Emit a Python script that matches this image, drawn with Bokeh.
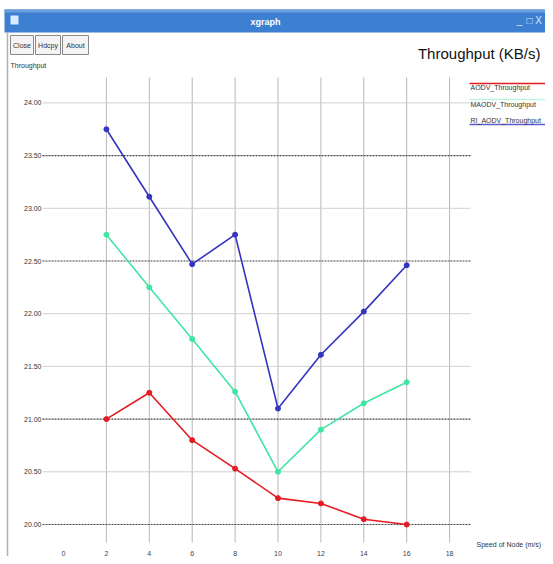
from bokeh.plotting import figure
from bokeh.embed import file_html
from bokeh.resources import INLINE
from bokeh.core.properties import value

# ---------------- data ----------------
speed = [2, 4, 6, 8, 10, 12, 14, 16]
aodv = [21.00, 21.25, 20.80, 20.53, 20.25, 20.20, 20.05, 20.00]
maodv = [22.75, 22.25, 21.76, 21.26, 20.50, 20.90, 21.15, 21.35]
ri_aodv = [23.75, 23.11, 22.47, 22.75, 21.10, 21.61, 22.02, 22.46]
series_names = ["AODV_Throughput", "MAODV_Throughput", "RI_AODV_Throughput"]
x_ticks = [0, 2, 4, 6, 8, 10, 12, 14, 16, 18]
y_ticks = [20.0, 20.5, 21.0, 21.5, 22.0, 22.5, 23.0, 23.5, 24.0]
dark_grid = [20.0, 21.0, 22.5, 23.5]
title_text = "Throughput (KB/s)"
x_label = "Speed of Node (m/s)"
y_label = "Throughput"

# ---------------- layout helpers (window pixel -> data) ----------------
W, H = 545, 556
OX, OY = 0, 3                   # window pixel shown at canvas origin
X0PX, XSCALE = 63.0, 21.45      # pixel of x=0, pixels per unit
Y0PX, YSCALE = 527.0, 105.4     # pixel of y=20, pixels per unit


def px2x(px):
    return (px - X0PX) / XSCALE


def py2v(py):
    return 20.0 + (Y0PX - py) / YSCALE


p = figure(width=W, height=H, output_backend="svg", toolbar_location=None,
           x_range=(px2x(OX), px2x(OX + W)), y_range=(py2v(OY + H), py2v(OY)),
           x_axis_type=None, y_axis_type=None, min_border=0,
           background_fill_color="white", border_fill_color="white")
p.outline_line_color = None
p.grid.visible = False

F = value("Liberation Sans")

# window chrome
p.quad(left=[px2x(4)], right=[px2x(560)], top=[py2v(12)], bottom=[py2v(35)],
       fill_color="#3d7fd0", line_color=None)
p.quad(left=[px2x(4)], right=[px2x(560)], top=[py2v(12)], bottom=[py2v(15)],
       fill_color="#6a9edc", line_color=None)
p.quad(left=[px2x(10)], right=[px2x(18)], top=[py2v(18)], bottom=[py2v(27)],
       fill_color="#d8ecff", line_color=None)
p.text(x=[px2x(265)], y=[py2v(24)], text=["xgraph"], text_color="white",
       text_font=F, text_font_size="9px", text_font_style="bold",
       text_align="center", text_baseline="middle")
p.text(x=[px2x(519), px2x(529), px2x(538)], y=[py2v(23)] * 3,
       text=["_", "□", "X"], text_color="#d8e8ff", text_font=F,
       text_font_size="10px", text_align="center", text_baseline="middle")
p.segment(x0=[px2x(7)], y0=[py2v(35)], x1=[px2x(7)], y1=[py2v(570)],
          line_color="#b0b0b0", line_width=1.5)

# buttons
btn_l = [px2x(10), px2x(35), px2x(62)]
btn_r = [px2x(33), px2x(60), px2x(88)]
p.quad(left=btn_l, right=btn_r, top=[py2v(38)] * 3, bottom=[py2v(57)] * 3,
       fill_color="#f4f4f4", line_color="#8a8a8a", line_width=1)
p.text(x=[(a + b) / 2 for a, b in zip(btn_l, btn_r)], y=[py2v(47.5)] * 3,
       text=["Close", "Hdcpy", "About"], text_color="#333333", text_font=F,
       text_font_size="7px", text_align="center", text_baseline="middle")

# labels
p.text(x=[px2x(10)], y=[py2v(68)], text=[y_label], text_color="#333333",
       text_font=F, text_font_size="7px", text_baseline="middle")
p.text(x=[px2x(540)], y=[py2v(56)], text=[title_text], text_color="#111111",
       text_font=F, text_font_size="15px", text_align="right",
       text_baseline="middle")
p.text(x=[px2x(476)], y=[py2v(547)], text=[x_label], text_color="#333333",
       text_font=F, text_font_size="7px", text_baseline="middle")

# grid: vertical
vx = x_ticks[1:]
p.segment(x0=vx, y0=[py2v(80)] * len(vx), x1=vx, y1=[py2v(545)] * len(vx),
          line_color="#a0a0a0", line_width=1, line_alpha=0.75)
# grid: horizontal
light = [v for v in y_ticks if v not in dark_grid]
p.segment(x0=[px2x(42)] * len(light), y0=light, x1=[px2x(470)] * len(light),
          y1=light, line_color="#d0d0d0", line_width=1)
p.segment(x0=[px2x(42)] * len(dark_grid), y0=dark_grid,
          x1=[px2x(470)] * len(dark_grid), y1=dark_grid,
          line_color="#444444", line_width=1.2, line_dash="2 1")

# tick labels
p.text(x=[px2x(41)] * len(y_ticks), y=y_ticks,
       text=[f"{v:.2f}" for v in y_ticks], text_color="#333333", text_font=F,
       text_font_size="7px", text_align="right", text_baseline="middle")
p.text(x=x_ticks, y=[py2v(556)] * len(x_ticks), text=[str(v) for v in x_ticks],
       text_color="#444444", text_font=F, text_font_size="7px",
       text_align="center", text_baseline="middle")

# series
colors = ["#e41b23", "#3fe6a3", "#3434c0"]
for vals, c in zip([aodv, maodv, ri_aodv], colors):
    p.line(speed, vals, line_color=c, line_width=1.6)
    p.scatter(speed, vals, size=5, fill_color=c, line_color=c)

# legend
leg_y = [py2v(90), py2v(107), py2v(123)]
leg_line_y = [py2v(86), py2v(102), py2v(127)]
leg_alpha = [1.0, 0.35, 0.8]
for ly, c, a in zip(leg_line_y, colors, leg_alpha):
    p.segment(x0=[px2x(469)], y0=[ly], x1=[px2x(545)], y1=[ly],
              line_color=c, line_width=1.5, line_alpha=a)
p.text(x=[px2x(470)] * 3, y=leg_y, text=series_names, text_color="#333333",
       text_font=F, text_font_size="7px", text_baseline="middle")

open("out.html", "w").write(file_html(p, INLINE))
